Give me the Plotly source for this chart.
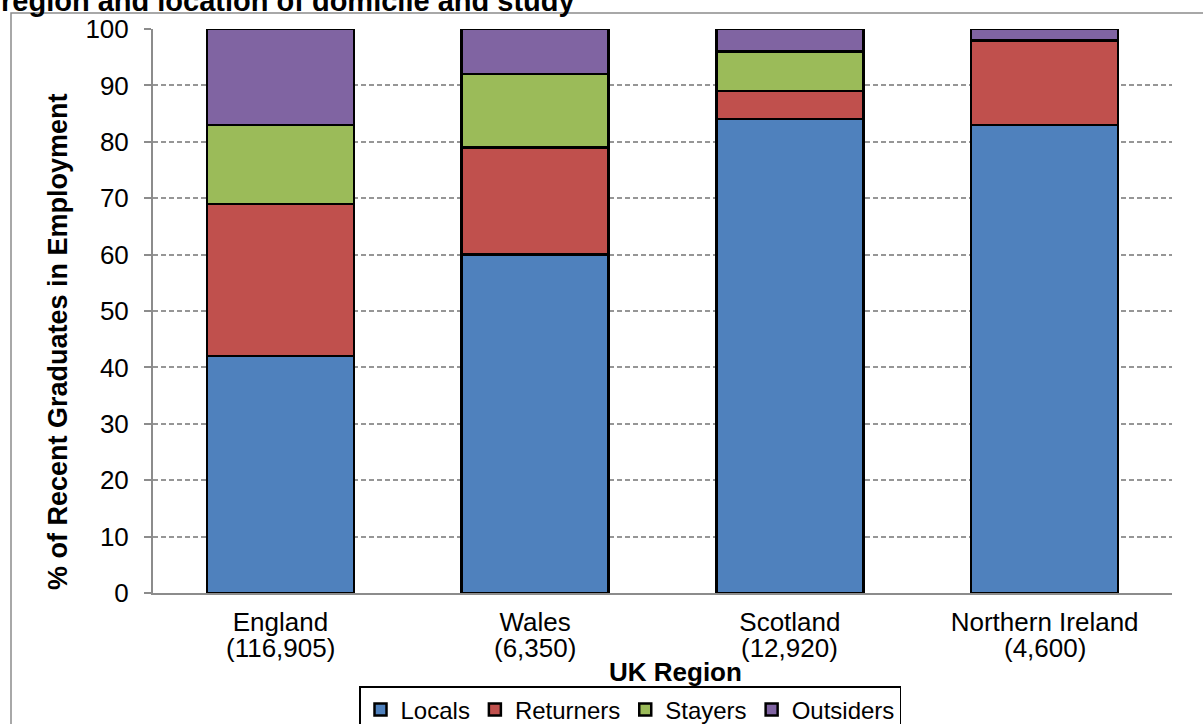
import plotly.graph_objects as go

regions = ["England", "Wales", "Scotland", "Northern Ireland"]
counts = ["(116,905)", "(6,350)", "(12,920)", "(4,600)"]
locals_ = [42, 60, 84, 83]
returners = [27, 19, 5, 15]
stayers = [14, 13, 7, 0]
outsiders = [17, 8, 4, 2]
y_ticks = [0, 10, 20, 30, 40, 50, 60, 70, 80, 90, 100]

series = [
    ("Locals", locals_, "#4F81BD"),
    ("Returners", returners, "#C0504D"),
    ("Stayers", stayers, "#9BBB59"),
    ("Outsiders", outsiders, "#8064A2"),
]

FONT = "Liberation Sans, Arial, sans-serif"
W, H = 1203, 724
L, R, T, B = 153, 31, 29, 131
pw, ph = W - L - R, H - T - B

def px_x(x):
    return (x - L) / pw

def px_y(y):
    return (H - B - y) / ph

fig = go.Figure()
for name, vals, col in series:
    fig.add_trace(go.Bar(
        x=regions, y=vals, name=name,
        marker=dict(color=col, line=dict(color="black", width=2.5)),
    ))

annotations = []
for reg, c in zip(regions, counts):
    annotations.append(dict(
        x=reg, xref="x", y=px_y(648), yref="paper", text=c,
        showarrow=False, yanchor="middle", xanchor="center",
        font=dict(family=FONT, size=26, color="black"),
    ))
annotations.append(dict(
    x=px_x(675), xref="paper", y=px_y(672), yref="paper", text="<b>UK Region</b>",
    showarrow=False, yanchor="middle", xanchor="center",
    font=dict(family=FONT, size=26, color="black"),
))
annotations.append(dict(
    x=px_x(58), xref="paper", y=px_y(342), yref="paper",
    text="<b>% of Recent Graduates in Employment</b>", textangle=-90,
    showarrow=False, yanchor="middle", xanchor="center",
    font=dict(family=FONT, size=27, color="black"),
))
annotations.append(dict(
    x=px_x(-1), xref="paper", y=px_y(1), yref="paper",
    text="<b>region and location of domicile and study</b>",
    showarrow=False, yanchor="middle", xanchor="left",
    font=dict(family=FONT, size=29, color="black"),
))

fig.update_layout(
    width=W, height=H,
    margin=dict(l=L, r=R, t=T, b=B, pad=0, autoexpand=False),
    paper_bgcolor="white", plot_bgcolor="white",
    barmode="stack", bargap=0.423,
    font=dict(family=FONT, size=26, color="black"),
    annotations=annotations,
    shapes=[dict(type="rect", xref="paper", yref="paper",
                 x0=px_x(11), x1=1.3, y0=-0.6, y1=px_y(13),
                 line=dict(color="#8c8c8c", width=1.5), layer="below")],
    legend=dict(
        orientation="h", x=px_x(630), xanchor="center", y=px_y(686), yanchor="top",
        bordercolor="black", borderwidth=1.5, bgcolor="white",
        font=dict(family=FONT, size=24, color="black"),
        itemwidth=30, tracegroupgap=0, traceorder="normal",
    ),
    xaxis=dict(
        showline=True, linecolor="#8c8c8c", linewidth=2, ticks="",
        tickfont=dict(family=FONT, size=26, color="black"),
        showgrid=False, automargin=False, ticklabelstandoff=5,
    ),
    yaxis=dict(
        range=[0, 100], tickvals=y_ticks,
        showline=True, linecolor="#8c8c8c", linewidth=2,
        ticks="outside", ticklen=7, tickcolor="#8c8c8c", tickwidth=2,
        showgrid=True, gridcolor="#969696", gridwidth=1.5, griddash="5px,3px",
        tickfont=dict(family=FONT, size=26, color="black"),
        zeroline=False, automargin=False, ticklabelstandoff=10,
    ),
)

fig.write_html("out.html")
